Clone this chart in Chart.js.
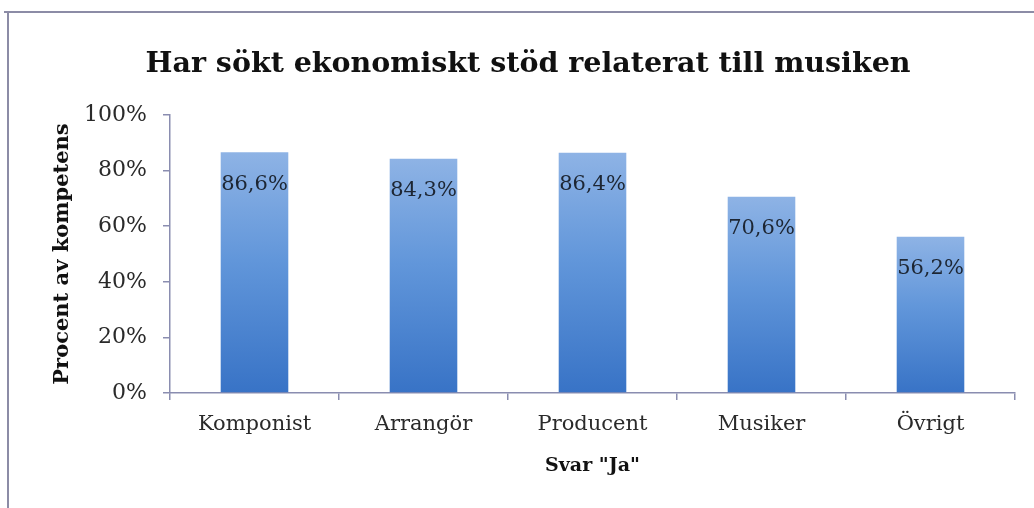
<!DOCTYPE html>
<html>
<head>
<meta charset="utf-8">
<script src="https://cdn.jsdelivr.net/npm/chart.js@4/dist/chart.umd.min.js"></script>
<style>
  html, body { margin: 0; padding: 0; background: #fff; }
  #wrap { width: 1034px; height: 508px; position: relative; }
</style>
</head>
<body>
<div id="wrap"><canvas id="chart"></canvas></div>
<script>
// Dados do gráfico
const categorias = ['Komponist', 'Arrangör', 'Producent', 'Musiker', 'Övrigt'];
const valores = [86.6, 84.3, 86.4, 70.6, 56.2];
const yTicks = [0, 20, 40, 60, 80, 100];
const titulo = 'Har sökt ekonomiskt stöd relaterat till musiken';

const serif = "'DejaVu Serif', 'Liberation Serif', serif";
const axisColor = '#8a8db0';

// Moldura e título do gráfico
const framePlugin = {
    id: 'frame',
    beforeDraw(chart) {
        const ctx = chart.ctx;
        ctx.save();
        ctx.strokeStyle = '#8c8ca6';
        ctx.lineWidth = 2;
        ctx.beginPath();
        ctx.moveTo(4, 12);
        ctx.lineTo(1034, 12);
        ctx.moveTo(8, 12);
        ctx.lineTo(8, 508);
        ctx.stroke();

        // Título (centralizado como no original)
        ctx.font = 'bold 28.5px ' + serif;
        ctx.fillStyle = '#111';
        ctx.textAlign = 'center';
        ctx.textBaseline = 'alphabetic';
        ctx.fillText(titulo, 528, 72);
        ctx.restore();
    }
};

// Rótulos de valor dentro das barras
const labelPlugin = {
    id: 'barLabels',
    afterDatasetsDraw(chart) {
        const ctx = chart.ctx;
        const meta = chart.getDatasetMeta(0);
        ctx.save();
        ctx.font = '21px ' + serif;
        ctx.fillStyle = '#1d2633';
        ctx.textAlign = 'center';
        ctx.textBaseline = 'middle';
        meta.data.forEach((bar, i) => {
            const txt = valores[i].toFixed(1).replace('.', ',') + '%';
            ctx.fillText(txt, bar.x, bar.y + 32);
        });
        ctx.restore();
    }
};

// Gradiente de cada barra (claro em cima, escuro embaixo)
function barGradient(context) {
    const chart = context.chart;
    if (!chart.chartArea) return '#5b8fd6';
    const y = chart.scales.y;
    const top = y.getPixelForValue(context.parsed ? context.parsed.y : 100);
    const bottom = y.getPixelForValue(0);
    const g = chart.ctx.createLinearGradient(0, top, 0, bottom);
    g.addColorStop(0, '#8eb3e5');
    g.addColorStop(0.45, '#6196da');
    g.addColorStop(1, '#3873c6');
    return g;
}

const ctx = document.getElementById('chart');
new Chart(ctx, {
    type: 'bar',
    data: {
        labels: categorias,
        datasets: [{
            data: valores,
            backgroundColor: barGradient,
            borderWidth: 0,
            categoryPercentage: 1,
            barPercentage: 0.4
        }]
    },
    options: {
        responsive: true,
        maintainAspectRatio: false,
        animation: false,
        layout: { padding: { left: 0, right: 19, top: 115, bottom: 0 } },
        plugins: {
            legend: { display: false },
            tooltip: { enabled: false },
            title: { display: false }
        },
        scales: {
            x: {
                grid: { display: true, drawOnChartArea: false, drawTicks: true, tickLength: 7, color: axisColor, lineWidth: 1.5 },
                border: { color: axisColor, width: 1.5 },
                ticks: { color: '#2a2a2a', font: { family: serif, size: 21 }, padding: 12 },
                title: {
                    display: true,
                    text: 'Svar "Ja"',
                    color: '#111',
                    font: { family: serif, size: 19, weight: 'bold' },
                    padding: { top: 0, bottom: 31 }
                },
                afterFit(scale) { scale.height = 115; }
            },
            y: {
                min: 0,
                max: 100,
                afterBuildTicks(scale) { scale.ticks = yTicks.map(v => ({ value: v })); },
                grid: { display: true, drawOnChartArea: false, drawTicks: true, tickLength: 7, color: axisColor, lineWidth: 1.5 },
                border: { color: axisColor, width: 1.5 },
                ticks: {
                    color: '#2a2a2a',
                    font: { family: serif, size: 22 },
                    padding: 16,
                    callback: v => v + '%'
                },
                title: {
                    display: true,
                    text: 'Procent av kompetens',
                    color: '#111',
                    font: { family: serif, size: 21, weight: 'bold' },
                    padding: { top: 50, bottom: 0 }
                },
                afterFit(scale) { scale.width = 170; }
            }
        }
    },
    plugins: [framePlugin, labelPlugin]
});
</script>
</body>
</html>
